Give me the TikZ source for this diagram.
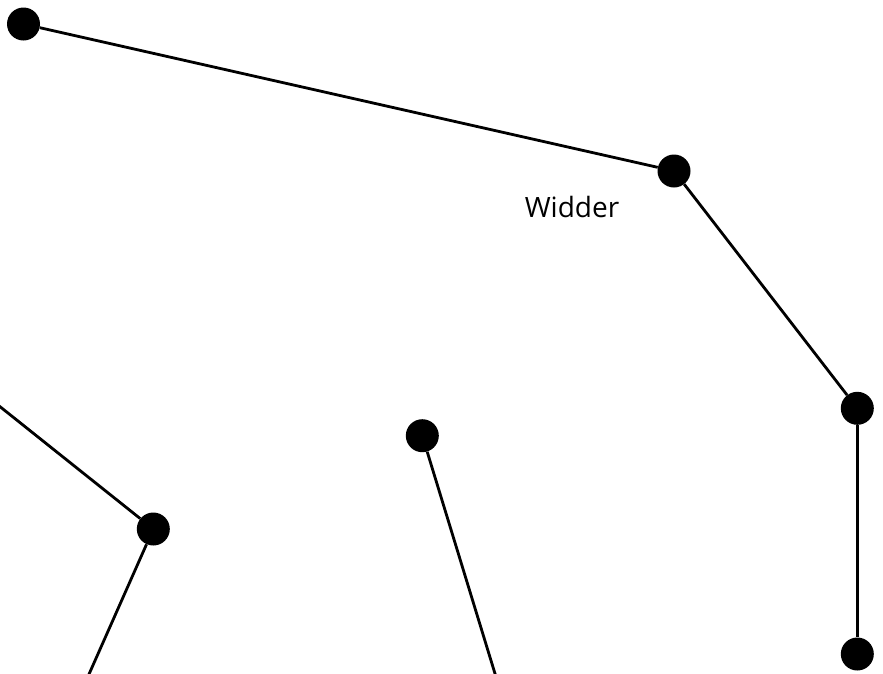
\documentclass[tikz,border=0pt]{standalone}
\usepackage{fontspec}
\setmainfont{Open Sans}
\begin{document}
\begin{tikzpicture}[x=1pt,y=-1pt,
  dot/.style={circle,fill=black,inner sep=0pt,minimum size=33pt},
  edge/.style={line width=2.8pt,black}]
\useasboundingbox (0,0) rectangle (883,673);
\clip (0,0) rectangle (883,673);
\node[dot] (a) at (23.5,24) {};
\node[dot] (b) at (674,171) {};
\node[dot] (c) at (857.3,408.3) {};
\node[dot] (d) at (857.3,654) {};
\node[dot] (e) at (422.3,435.7) {};
\node[dot] (f) at (153.3,529) {};
\coordinate (fl) at (-20,390.7);
\coordinate (fb) at (82,690);
\coordinate (eb) at (500,690);
\draw[edge] (a) -- (b);
\draw[edge] (b) -- (c);
\draw[edge] (c) -- (d);
\draw[edge] (e) -- (eb);
\draw[edge] (fl) -- (f);
\draw[edge] (f) -- (fb);
\node[anchor=base,font=\fontsize{28}{32}\selectfont,inner sep=0pt] (t) at (572,217) {Widder};
\end{tikzpicture}
\end{document}
